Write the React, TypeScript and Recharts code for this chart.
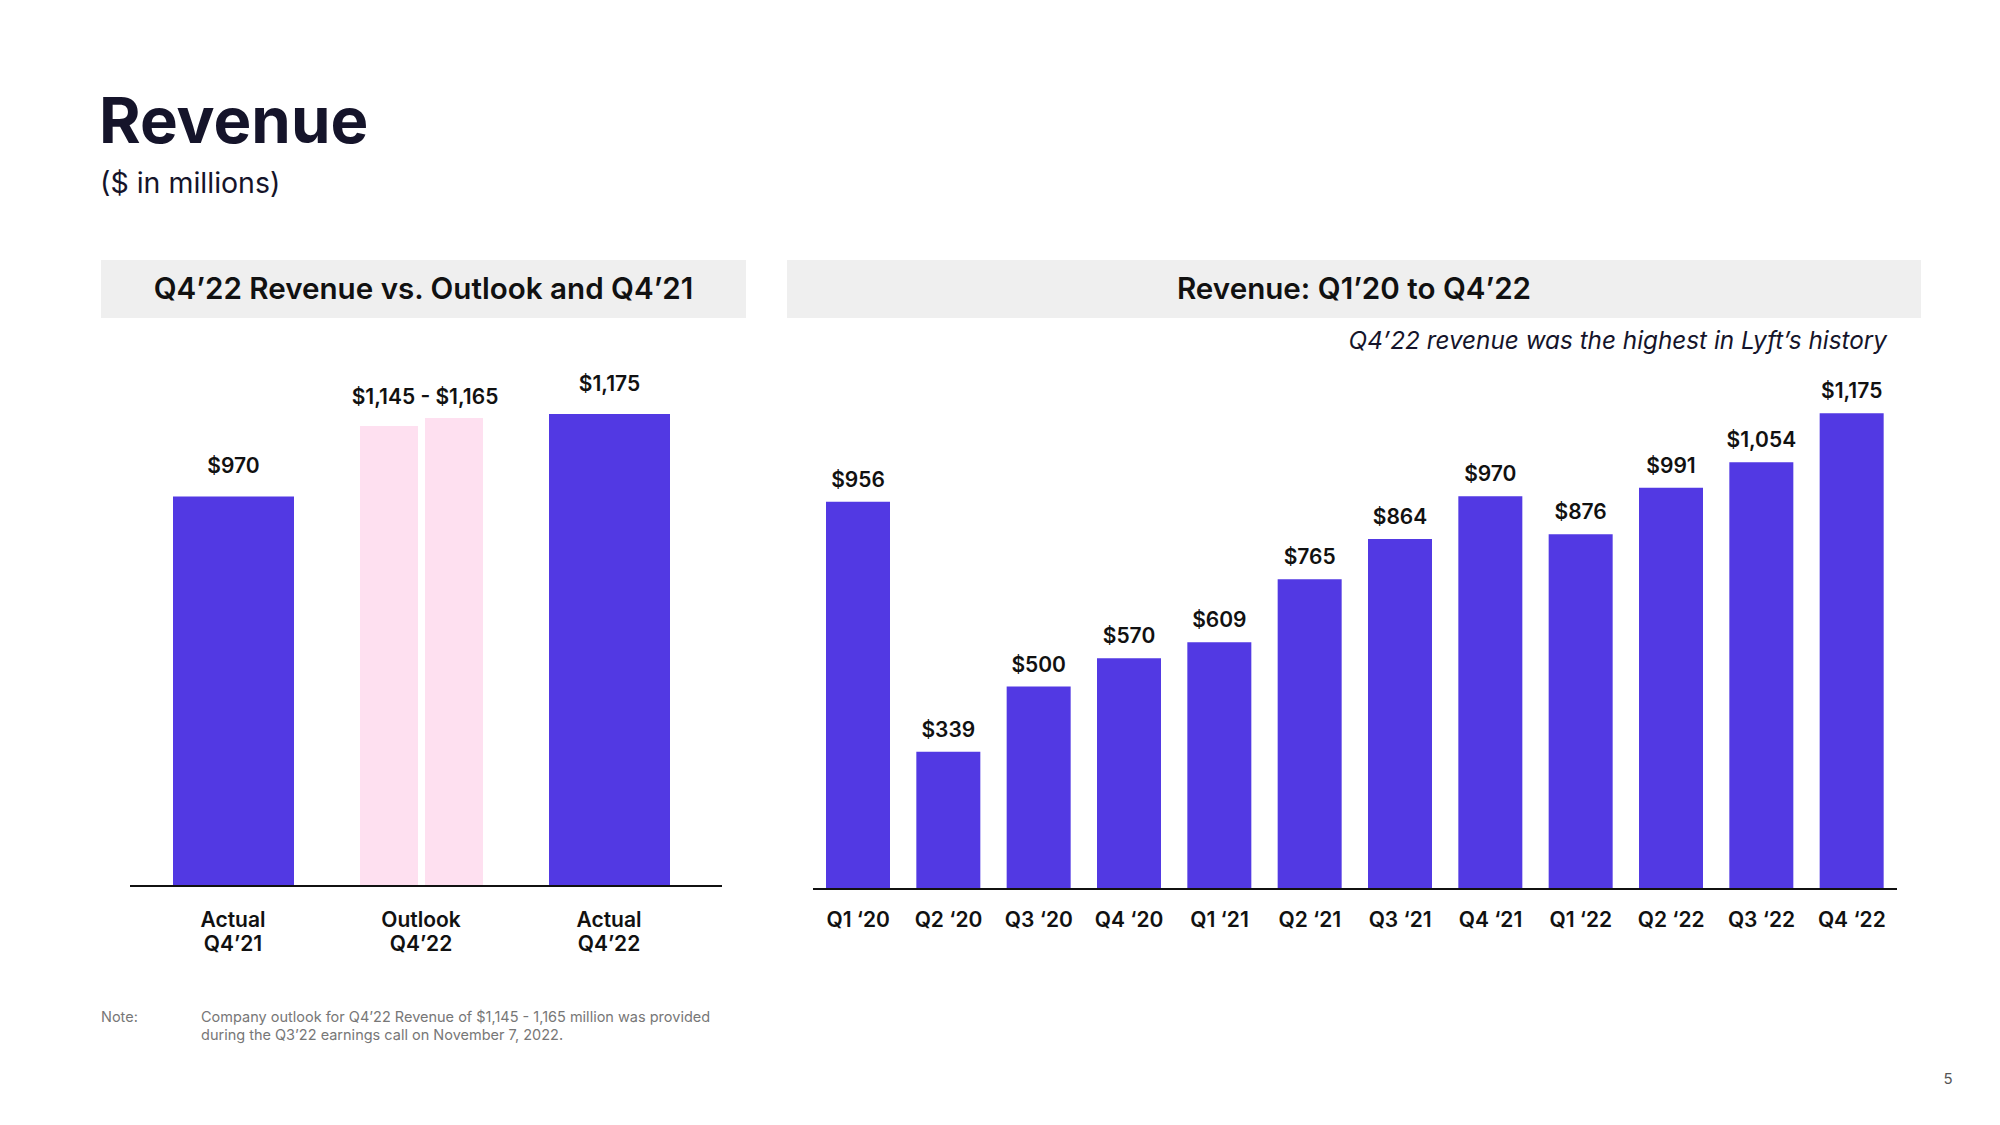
import React from 'react';
import { BarChart, Bar, XAxis, YAxis, LabelList } from 'recharts';

// ---------- data ----------
const compareCategories = ['Actual Q4’21', 'Outlook Q4’22', 'Actual Q4’22'];
const compareActual: (number | null)[] = [970, null, 1175];
const outlookLow: (number | null)[] = [null, 1145, null];
const outlookHigh: (number | null)[] = [null, 1165, null];
const outlookRangeLabel = '$1,145 - $1,165';

const quarters = ['Q1 ‘20', 'Q2 ‘20', 'Q3 ‘20', 'Q4 ‘20', 'Q1 ‘21', 'Q2 ‘21', 'Q3 ‘21', 'Q4 ‘21', 'Q1 ‘22', 'Q2 ‘22', 'Q3 ‘22', 'Q4 ‘22'];
const quarterlyRevenue = [956, 339, 500, 570, 609, 765, 864, 970, 876, 991, 1054, 1175];

const compareData = compareCategories.map((name, i) => ({
  name,
  actual: compareActual[i],
  low: outlookLow[i],
  high: outlookHigh[i],
}));
const quarterData = quarters.map((name, i) => ({ name, revenue: quarterlyRevenue[i] }));

// ---------- styles ----------
const FONT = 'Inter, "Noto Sans", sans-serif';
const PURPLE = '#5239E3';
const PINK = '#FEE0F0';
const INK = '#15142A';

const fmt = (v: any) => (v == null ? '' : '$' + Number(v).toLocaleString('en-US'));

const makeTopLabel = (offset: number) => (p: any) => {
  if (p.value == null) return null;
  return (
    <text x={p.x + p.width / 2} y={p.y - offset} textAnchor="middle" fontFamily={FONT} fontSize={21} fontWeight={600} fill="#111">
      {fmt(p.value)}
    </text>
  );
};

const RangeLabel = (p: any) => {
  if (p.value == null) return null;
  return (
    <text x={p.x} y={p.y - 14} textAnchor="middle" fontFamily={FONT} fontSize={21} fontWeight={600} fill="#111">
      {outlookRangeLabel}
    </text>
  );
};

const TwoLineTick = (props: any) => {
  const { x, y, payload } = props;
  const parts = String(payload.value).split(' ');
  return (
    <text x={x} y={y} textAnchor="middle" fontFamily={FONT} fontSize={21} fontWeight={600} fill="#111">
      <tspan x={x} dy={41}>{parts[0]}</tspan>
      <tspan x={x} dy={24}>{parts[1]}</tspan>
    </text>
  );
};

const QuarterTick = (props: any) => {
  const { x, y, payload } = props;
  return (
    <text x={x} y={y + 38} textAnchor="middle" fontFamily={FONT} fontSize={21} fontWeight={600} fill="#111">
      {payload.value}
    </text>
  );
};

export default function App() {
  return (
    <div style={{ position: 'absolute', left: 0, top: 0, width: 2000, height: 1125, background: '#fff', fontFamily: FONT, overflow: 'hidden' }}>
      <svg width={2000} height={1125} style={{ position: 'absolute', left: 0, top: 0 }}>
        <text x={99} y={143} fontFamily={FONT} fontSize={63.5} fontWeight={700} fill={INK}>Revenue</text>
        <text x={100} y={193} fontFamily={FONT} fontSize={28.5} fontWeight={400} fill={INK}>($ in millions)</text>

        <rect x={101} y={260} width={645} height={58} fill="#EFEFEF" />
        <text x={423.5} y={299} textAnchor="middle" fontFamily={FONT} fontSize={29.6} fontWeight={600} fill="#111">Q4’22 Revenue vs. Outlook and Q4’21</text>

        <rect x={787} y={260} width={1134} height={58} fill="#EFEFEF" />
        <text x={1354} y={299} textAnchor="middle" fontFamily={FONT} fontSize={29.6} fontWeight={600} fill="#111">Revenue: Q1’20 to Q4’22</text>

        <text x={1887} y={349} textAnchor="end" fontFamily={FONT} fontSize={24.3} fontStyle="italic" fill={INK}>Q4’22 revenue was the highest in Lyft’s history</text>

        <text x={101} y={1022} fontFamily={FONT} fontSize={14.5} fill="#777">Note:</text>
        <text x={201} y={1022} fontFamily={FONT} fontSize={14.5} fill="#777">Company outlook for Q4’22 Revenue of $1,145 - 1,165 million was provided</text>
        <text x={201} y={1040} fontFamily={FONT} fontSize={14.5} fill="#777">during the Q3’22 earnings call on November 7, 2022.</text>

        <text x={1948} y={1084} textAnchor="middle" fontFamily={FONT} fontSize={15} fill="#555">5</text>
      </svg>

      <div style={{ position: 'absolute', left: 100, top: 340 }}>
        <BarChart width={650} height={640} data={compareData} margin={{ top: 64, right: 28, bottom: 34, left: 30 }} barGap={7}>
          <YAxis hide domain={[0, 1200]} />
          <XAxis
            xAxisId="a"
            dataKey="name"
            height={60}
            padding={{ left: 9, right: 19 }}
            axisLine={{ stroke: '#111', strokeWidth: 2 }}
            tickLine={false}
            tickSize={0}
            tickMargin={0}
            interval={0}
            tick={<TwoLineTick />}
          />
          <XAxis xAxisId="b" dataKey="name" hide padding={{ left: 9, right: 19 }} />
          <Bar xAxisId="a" dataKey="actual" fill={PURPLE} barSize={121} isAnimationActive={false}>
            <LabelList dataKey="actual" content={makeTopLabel(23)} />
          </Bar>
          <Bar xAxisId="b" dataKey="low" fill={PINK} barSize={58} isAnimationActive={false} />
          <Bar xAxisId="b" dataKey="high" fill={PINK} barSize={58} isAnimationActive={false}>
            <LabelList dataKey="high" content={RangeLabel} />
          </Bar>
        </BarChart>
      </div>

      <div style={{ position: 'absolute', left: 790, top: 340 }}>
        <BarChart width={1130} height={640} data={quarterData} margin={{ top: 63, right: 23, bottom: 31, left: 23 }}>
          <YAxis hide domain={[0, 1200]} />
          <XAxis
            dataKey="name"
            height={60}
            axisLine={{ stroke: '#111', strokeWidth: 2 }}
            tickLine={false}
            tickSize={0}
            tickMargin={0}
            interval={0}
            tick={<QuarterTick />}
          />
          <Bar dataKey="revenue" fill={PURPLE} barSize={64} isAnimationActive={false}>
            <LabelList dataKey="revenue" content={makeTopLabel(15)} />
          </Bar>
        </BarChart>
      </div>
    </div>
  );
}
